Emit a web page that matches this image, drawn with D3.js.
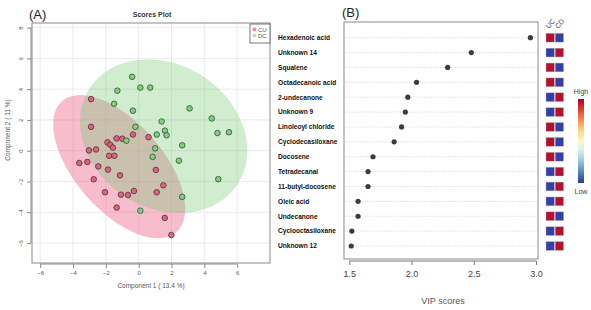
<!DOCTYPE html>
<html><head><meta charset="utf-8">
<script src="https://cdn.jsdelivr.net/npm/d3@7"></script>
<style>
html,body{margin:0;padding:0;background:#fff;}
svg{display:block;font-family:"Liberation Sans",Arial,sans-serif;}
</style></head>
<body><svg id="chart" width="591" height="310"></svg>
<script>
// ---------- data: panel A (PLS-DA scores) ----------
const groups = ["CU", "DC"];
const cuX = [-2.9,-2.9,-0.35,-1.35,-1.0,0.6,-1.9,-1.73,-1.57,-3.03,-2.6,-1.8,-1.48,-3.62,-3.13,-2.46,-1.87,-1.14,1.05,-2.74,1.5,-2.05,-1.08,-0.65,-0.29,1.1,-1.34,1.59,1.99];
const cuY = [3.35,1.55,1.05,0.8,0.78,0.88,0.54,0.38,0.2,0.02,0.08,-0.33,-0.33,-0.8,-0.73,-1.02,-1.23,-1.6,-1.25,-1.86,-2.25,-2.7,-2.86,-2.88,-2.62,-2.7,-3.7,-4.37,-5.48];
const dcX = [-0.4,0.1,0.7,-1.3,-1.5,3.1,-0.35,1.4,4.45,-0.2,1.6,1.1,1.7,4.8,5.5,-0.75,2.65,1.0,0.85,2.45,4.85,2.65,0.1];
const dcY = [4.8,4.1,4.1,3.9,3.05,2.75,2.6,1.9,2.1,1.55,1.3,1.05,1.0,1.15,1.2,0.65,0.35,0.15,-0.4,-0.65,-1.85,-3.0,-3.9];
// 95% confidence regions: centre x, centre y, semi-axis a, semi-axis b, angle (deg)
const cuEllipse = [-1.19, -1.04, 5.5, 2.75, -52];
const dcEllipse = [1.52, 0.94, 5.5, 4.55, -42];
const scoreTicks = [-6,-4,-2,0,2,4,6];
const scoreYTicks = [-6,-4,-2,0,2,4,6,8];

// ---------- data: panel B (VIP scores) ----------
const features = ["Hexadenoic acid","Unknown 14","Squalene","Octadecanoic acid","2-undecanone","Unknown 9","Linoleoyl chloride","Cyclodecasiloxane","Docosene","Tetradecanal","11-butyl-docosene","Oleic acid","Undecanone","Cyclooctasiloxane","Unknown 12"];
const vip = [2.955,2.48,2.29,2.04,1.97,1.95,1.92,1.86,1.69,1.65,1.65,1.57,1.57,1.52,1.515];
const heatCols = ["UC","CD"];
// 1 = high, 0 = low
const heatUC = [1,0,1,1,0,0,1,1,1,0,0,0,1,0,0];
const heatCD = [0,1,0,0,1,1,0,0,0,1,1,1,0,1,1];
const vipTicks = [1.5,2.0,2.5,3.0];

const svg = d3.select("#chart");

// ================= Panel A =================
const xA = d3.scaleLinear().domain([-6.5, 8]).range([32, 270]);
const yA = d3.scaleLinear().domain([-7.3, 8.3]).range([263, 23]);
const gA = svg.append("g");

// grid
gA.selectAll(".gx").data(scoreTicks).join("line")
  .attr("x1", d=>xA(d)).attr("x2", d=>xA(d)).attr("y1", 23).attr("y2", 263)
  .attr("stroke", "#eaeaf0").attr("stroke-width", 1);
gA.selectAll(".gy").data(scoreYTicks).join("line")
  .attr("y1", d=>yA(d)).attr("y2", d=>yA(d)).attr("x1", 32).attr("x2", 270)
  .attr("stroke", "#eaeaf0").attr("stroke-width", 1);

function ellipsePts(e) {
  const [cx, cy, a, b, deg] = e;
  const th = deg*Math.PI/180;
  return d3.range(0, 101).map(k=>{
    const u = 2*Math.PI*k/100;
    const ex = a*Math.cos(u), ey = b*Math.sin(u);
    return [cx + ex*Math.cos(th) - ey*Math.sin(th), cy + ex*Math.sin(th) + ey*Math.cos(th)];
  });
}
const line = d3.line().x(d=>xA(d[0])).y(d=>yA(d[1])).curve(d3.curveLinearClosed);
gA.append("path").attr("d", line(ellipsePts(cuEllipse)))
  .attr("fill", "rgba(236,90,130,0.4)");
gA.append("path").attr("d", line(ellipsePts(dcEllipse)))
  .attr("fill", "rgba(110,200,110,0.32)");

// points
const cuPts = cuX.map((x,i)=>[x, cuY[i]]);
const dcPts = dcX.map((x,i)=>[x, dcY[i]]);
gA.selectAll(".cu").data(cuPts).join("circle")
  .attr("cx", d=>xA(d[0])).attr("cy", d=>yA(d[1])).attr("r", 2.8)
  .attr("fill", "#e0607f").attr("stroke", "#443333").attr("stroke-width", 0.75);
gA.selectAll(".dc").data(dcPts).join("circle")
  .attr("cx", d=>xA(d[0])).attr("cy", d=>yA(d[1])).attr("r", 2.8)
  .attr("fill", "#80cf80").attr("stroke", "#2f452f").attr("stroke-width", 0.75);

// frame
gA.append("rect").attr("x", 32).attr("y", 23).attr("width", 238).attr("height", 240)
  .attr("fill", "none").attr("stroke", "#8a8a8a").attr("stroke-width", 1);

// axes
const axX = d3.axisBottom(xA).tickValues(scoreTicks).tickSize(4).tickPadding(3).tickFormat(d3.format("d"));
const gx = gA.append("g").attr("transform", "translate(0,264)").call(axX);
gx.select(".domain").attr("d", `M${xA(-6)},0H${xA(6)}`).attr("stroke", "#8a8a8a");
gx.selectAll(".tick line").attr("stroke", "#8a8a8a");
gx.selectAll("text").attr("fill", "#555").style("font-size", "6px");

const axY = d3.axisLeft(yA).tickValues(scoreYTicks).tickSize(4).tickPadding(3).tickFormat(d3.format("d"));
const gy = gA.append("g").attr("transform", "translate(31,0)").call(axY);
gy.select(".domain").attr("d", `M0,${yA(-6)}V${yA(8)}`).attr("stroke", "#8a8a8a");
gy.selectAll(".tick line").attr("stroke", "#8a8a8a");
gy.selectAll("text").attr("fill", "#555").style("font-size", "6px")
  .attr("text-anchor", "middle")
  .attr("transform", "translate(-10,0) rotate(-90)").attr("x", 0).attr("y", 0).attr("dy", "0.35em");

gA.append("text").attr("x", 151).attr("y", 288).attr("text-anchor", "middle")
  .style("font-size", "6.5px").attr("fill", "#555").text("Component 1 ( 13.4 %)");
gA.append("text").attr("transform", "translate(10,130) rotate(-90)").attr("text-anchor", "middle")
  .style("font-size", "6.5px").attr("fill", "#555").text("Component 2 ( 11 %)");
gA.append("text").attr("x", 152).attr("y", 17).attr("text-anchor", "middle")
  .style("font-size", "7px").style("font-weight", "bold").attr("fill", "#333").text("Scores Plot");
svg.append("text").attr("x", 29).attr("y", 19)
  .style("font-size", "13px").attr("fill", "#222").text("(A)");

// legend
const leg = gA.append("g");
leg.append("rect").attr("x", 250).attr("y", 24).attr("width", 20).attr("height", 19)
  .attr("fill", "#fff").attr("stroke", "#555").attr("stroke-width", 0.8);
const legColors = ["#f08aa8", "#b8e3b8"];
groups.forEach((g,i)=>{
  leg.append("circle").attr("cx", 254.5).attr("cy", 29.5 + i*6).attr("r", 2).attr("fill", legColors[i]);
  leg.append("text").attr("x", 258).attr("y", 31.5 + i*6).style("font-size", "6px").attr("fill", "#555").text(g);
});

// ================= Panel B =================
const xB = d3.scaleLinear().domain([1.457, 3.016]).range([344, 538]);
const yB = d3.scalePoint().domain(features).range([37.7, 246]);
const gB = svg.append("g");

gB.append("text").attr("x", 342).attr("y", 17).style("font-size", "13px").attr("fill", "#222").text("(B)");

gB.selectAll(".rowline").data(features).join("line")
  .attr("x1", 345).attr("x2", 537).attr("y1", d=>yB(d)).attr("y2", d=>yB(d))
  .attr("stroke", "#c8c8c8").attr("stroke-width", 0.7).attr("stroke-dasharray", "1,1.2");

gB.append("rect").attr("x", 344).attr("y", 22).attr("width", 194).attr("height", 237)
  .attr("fill", "none").attr("stroke", "#8a8a8a").attr("stroke-width", 1);

gB.selectAll(".dot").data(features).join("circle")
  .attr("cx", (d,i)=>xB(vip[i])).attr("cy", d=>yB(d)).attr("r", 2.6).attr("fill", "#3c3c3c");

gB.selectAll(".flab").data(features).join("text")
  .attr("x", 278).attr("y", d=>yB(d)).attr("dy", "0.35em")
  .style("font-size", "6.6px").style("font-weight", "bold").attr("fill", "#111")
  .text(d=>d);

const axB = d3.axisBottom(xB).tickValues(vipTicks).tickSize(4).tickPadding(6).tickFormat(d3.format(".1f"));
const gxb = gB.append("g").attr("transform", "translate(0,261)").call(axB);
gxb.select(".domain").attr("d", `M${xB(1.5)},0H${xB(3.0)}`).attr("stroke", "#777");
gxb.selectAll(".tick line").attr("stroke", "#777");
gxb.selectAll("text").attr("fill", "#444").style("font-size", "9px");
gB.append("text").attr("x", 443).attr("y", 304).attr("text-anchor", "middle")
  .style("font-size", "9px").attr("fill", "#555").text("VIP scores");

// heatmap
const hiCol = "#b3122f", loCol = "#3540a6";
const heatVals = [heatUC, heatCD];
heatCols.forEach((c,j)=>{
  const x0 = 546 + j*9.2;
  gB.selectAll(".h"+c).data(features).join("rect")
    .attr("x", x0).attr("y", d=>yB(d)-4.4).attr("width", 8.4).attr("height", 8.8)
    .attr("fill", (d,i)=> heatVals[j][i] ? hiCol : loCol)
    .attr("stroke", "#bbb").attr("stroke-width", 0.4);
  gB.append("text").attr("transform", `translate(${x0+3},${29}) rotate(-50)`)
    .style("font-size", "7px").attr("fill", "#444").text(c);
});

// color bar
const defs = svg.append("defs");
const grad = defs.append("linearGradient").attr("id", "cb").attr("x1", 0).attr("x2", 0).attr("y1", 0).attr("y2", 1);
d3.range(0, 1.0001, 0.1).forEach(t=>{
  grad.append("stop").attr("offset", t).attr("stop-color", d3.interpolateRdYlBu(t));
});
gB.append("rect").attr("x", 578).attr("y", 99).attr("width", 6).attr("height", 84).attr("fill", "url(#cb)");
gB.append("text").attr("x", 581).attr("y", 94).attr("text-anchor", "middle").style("font-size", "7px").attr("fill", "#444").text("High");
gB.append("text").attr("x", 581).attr("y", 194).attr("text-anchor", "middle").style("font-size", "7px").attr("fill", "#444").text("Low");
</script>
</body></html>
